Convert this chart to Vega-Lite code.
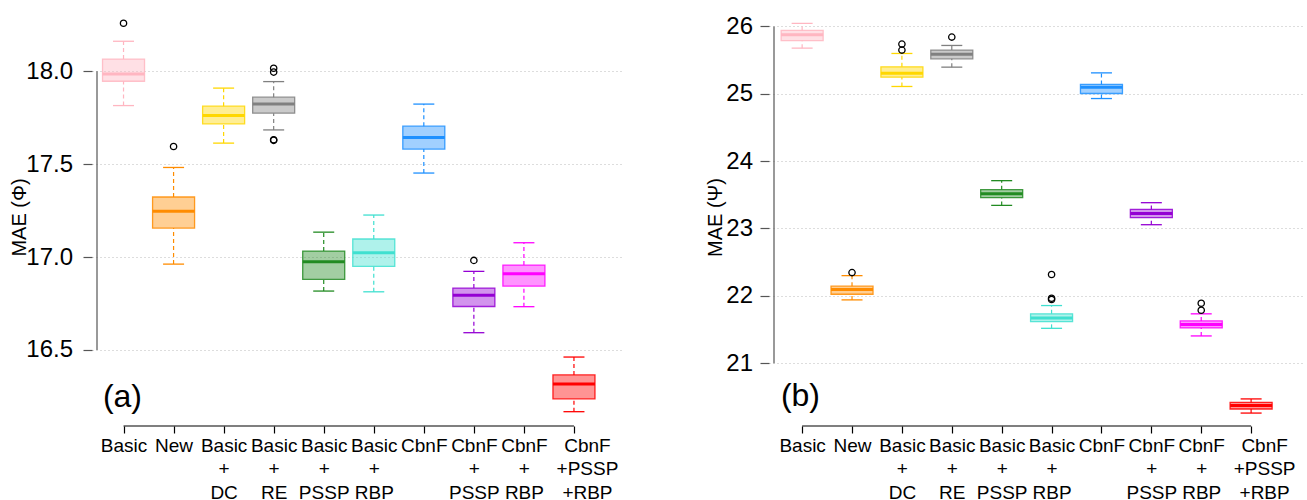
{
  "$schema": "https://vega.github.io/schema/vega-lite/v6.json",
  "padding": {"left": 9, "top": 8, "right": 0, "bottom": 0},
  "spacing": 82,
  "datasets": {
    "one": [{}],
    "a": [
      {"m": 1, "lo": 17.815, "q1": 17.946, "med": 17.985, "q3": 18.065, "hi": 18.161},
      {"m": 2, "lo": 16.962, "q1": 17.156, "med": 17.247, "q3": 17.323, "hi": 17.482},
      {"m": 3, "lo": 17.613, "q1": 17.717, "med": 17.761, "q3": 17.812, "hi": 17.909},
      {"m": 4, "lo": 17.684, "q1": 17.774, "med": 17.824, "q3": 17.860, "hi": 17.944},
      {"m": 5, "lo": 16.817, "q1": 16.880, "med": 16.975, "q3": 17.032, "hi": 17.134},
      {"m": 6, "lo": 16.813, "q1": 16.950, "med": 17.023, "q3": 17.097, "hi": 17.226},
      {"m": 7, "lo": 17.452, "q1": 17.581, "med": 17.643, "q3": 17.704, "hi": 17.823},
      {"m": 8, "lo": 16.593, "q1": 16.734, "med": 16.794, "q3": 16.833, "hi": 16.923},
      {"m": 9, "lo": 16.733, "q1": 16.844, "med": 16.910, "q3": 16.957, "hi": 17.077},
      {"m": 10, "lo": 16.168, "q1": 16.237, "med": 16.317, "q3": 16.366, "hi": 16.462}
    ],
    "ao": [
      {"m": 1, "v": 18.258},
      {"m": 2, "v": 17.595},
      {"m": 4, "v": 18.016},
      {"m": 4, "v": 17.995},
      {"m": 4, "v": 17.631},
      {"m": 4, "v": 17.628},
      {"m": 8, "v": 16.982}
    ],
    "b": [
      {"m": 1, "lo": 25.677, "q1": 25.79, "med": 25.875, "q3": 25.94, "hi": 26.045},
      {"m": 2, "lo": 21.94, "q1": 22.024, "med": 22.094, "q3": 22.143, "hi": 22.30},
      {"m": 3, "lo": 25.108, "q1": 25.246, "med": 25.306, "q3": 25.40, "hi": 25.598},
      {"m": 4, "lo": 25.395, "q1": 25.518, "med": 25.588, "q3": 25.648, "hi": 25.717},
      {"m": 5, "lo": 23.343, "q1": 23.457, "med": 23.517, "q3": 23.576, "hi": 23.71},
      {"m": 6, "lo": 21.518, "q1": 21.618, "med": 21.673, "q3": 21.733, "hi": 21.856},
      {"m": 7, "lo": 24.929, "q1": 25.004, "med": 25.097, "q3": 25.138, "hi": 25.31},
      {"m": 8, "lo": 23.056, "q1": 23.16, "med": 23.224, "q3": 23.283, "hi": 23.383},
      {"m": 9, "lo": 21.405, "q1": 21.524, "med": 21.573, "q3": 21.628, "hi": 21.733},
      {"m": 10, "lo": 20.26, "q1": 20.32, "med": 20.373, "q3": 20.418, "hi": 20.47}
    ],
    "bo": [
      {"m": 2, "v": 22.345},
      {"m": 3, "v": 25.737},
      {"m": 3, "v": 25.648},
      {"m": 4, "v": 25.841},
      {"m": 6, "v": 22.317},
      {"m": 6, "v": 21.964},
      {"m": 6, "v": 21.945},
      {"m": 9, "v": 21.89},
      {"m": 9, "v": 21.786}
    ]
  },
  "hconcat": [
    {
      "width": 531,
      "height": 418,
      "layer": [
        {
          "data": {"name": "one"},
          "mark": {"type": "rule", "color": "#555", "strokeWidth": 1.2},
          "encoding": {
            "x": {"datum": 0.47, "type": "quantitative", "title": null, "scale": {"domain": [0.47, 10.88], "nice": false, "zero": false}},
            "y": {"datum": 16.5, "type": "quantitative", "title": "MAE (Φ)", "scale": {"domain": [16.091, 18.34], "nice": false, "zero": false}},
            "y2": {"datum": 18.0}
          }
        },
        {
          "data": {"name": "one"},
          "mark": {"type": "rule", "color": "#000", "strokeWidth": 1.2},
          "encoding": {
            "x": {"datum": 1, "type": "quantitative", "title": null, "scale": {"domain": [0.47, 10.88], "nice": false, "zero": false}},
            "x2": {"datum": 10},
            "y": {"datum": 16.091, "type": "quantitative", "title": "MAE (Φ)", "scale": {"domain": [16.091, 18.34], "nice": false, "zero": false}}
          }
        },
        {
          "data": {"name": "a"},
          "mark": {"type": "rule", "strokeDash": [4, 3], "strokeWidth": 1.2},
          "encoding": {
            "x": {"field": "m", "type": "quantitative", "title": null, "scale": {"domain": [0.47, 10.88], "nice": false, "zero": false}},
            "y": {"field": "q3", "type": "quantitative", "title": "MAE (Φ)", "scale": {"domain": [16.091, 18.34], "nice": false, "zero": false}},
            "y2": {"field": "hi"},
            "stroke": {"field": "m", "type": "nominal", "legend": null, "scale": {"domain": [1,2,3,4,5,6,7,8,9,10], "range": ["#FFB6C1","#FF8C00","#FFD700","#808080","#228B22","#40E0D0","#1E90FF","#9400D3","#FF00FF","#FF0000"]}}
          }
        },
        {
          "data": {"name": "a"},
          "mark": {"type": "rule", "strokeDash": [4, 3], "strokeWidth": 1.2},
          "encoding": {
            "x": {"field": "m", "type": "quantitative", "title": null, "scale": {"domain": [0.47, 10.88], "nice": false, "zero": false}},
            "y": {"field": "lo", "type": "quantitative", "title": "MAE (Φ)", "scale": {"domain": [16.091, 18.34], "nice": false, "zero": false}},
            "y2": {"field": "q1"},
            "stroke": {"field": "m", "type": "nominal", "legend": null}
          }
        },
        {
          "data": {"name": "a"},
          "mark": {"type": "tick", "orient": "horizontal", "size": 21, "thickness": 1.3, "opacity": 1},
          "encoding": {
            "x": {"field": "m", "type": "quantitative", "title": null, "scale": {"domain": [0.47, 10.88], "nice": false, "zero": false}},
            "y": {"field": "hi", "type": "quantitative", "title": "MAE (Φ)", "scale": {"domain": [16.091, 18.34], "nice": false, "zero": false}},
            "color": {"field": "m", "type": "nominal", "legend": null, "scale": {"domain": [1,2,3,4,5,6,7,8,9,10], "range": ["#FFB6C1","#FF8C00","#FFD700","#808080","#228B22","#40E0D0","#1E90FF","#9400D3","#FF00FF","#FF0000"]}}
          }
        },
        {
          "data": {"name": "a"},
          "mark": {"type": "tick", "orient": "horizontal", "size": 21, "thickness": 1.3, "opacity": 1},
          "encoding": {
            "x": {"field": "m", "type": "quantitative", "title": null, "scale": {"domain": [0.47, 10.88], "nice": false, "zero": false}},
            "y": {"field": "lo", "type": "quantitative", "title": "MAE (Φ)", "scale": {"domain": [16.091, 18.34], "nice": false, "zero": false}},
            "color": {"field": "m", "type": "nominal", "legend": null}
          }
        },
        {
          "data": {"name": "a"},
          "mark": {"type": "bar", "width": 42, "fillOpacity": 0.42, "strokeOpacity": 0.85, "strokeWidth": 1.3},
          "encoding": {
            "x": {"field": "m", "type": "quantitative", "title": null, "scale": {"domain": [0.47, 10.88], "nice": false, "zero": false},
              "axis": {"values": [1,2,3,4,5,6,7,8,9,10], "labelOffset": {"condition": {"test": "datum.value == 10", "value": 13}, "value": 0}}},
            "y": {"field": "q1", "type": "quantitative", "title": "MAE (Φ)", "scale": {"domain": [16.091, 18.34], "nice": false, "zero": false},
              "axis": {"values": [16.5, 17, 17.5, 18], "format": ".1f", "labelPadding": 10.5, "titleX": -72.5}},
            "y2": {"field": "q3"},
            "fill": {"field": "m", "type": "nominal", "legend": null, "scale": {"domain": [1,2,3,4,5,6,7,8,9,10], "range": ["#FFB6C1","#FF8C00","#FFD700","#808080","#228B22","#40E0D0","#1E90FF","#9400D3","#FF00FF","#FF0000"]}},
            "stroke": {"field": "m", "type": "nominal", "legend": null}
          }
        },
        {
          "data": {"name": "a"},
          "mark": {"type": "tick", "orient": "horizontal", "size": 42, "thickness": 3, "opacity": 1},
          "encoding": {
            "x": {"field": "m", "type": "quantitative", "title": null, "scale": {"domain": [0.47, 10.88], "nice": false, "zero": false}},
            "y": {"field": "med", "type": "quantitative", "title": "MAE (Φ)", "scale": {"domain": [16.091, 18.34], "nice": false, "zero": false}},
            "color": {"field": "m", "type": "nominal", "legend": null}
          }
        },
        {
          "data": {"name": "ao"},
          "mark": {"type": "point", "shape": "circle", "filled": false, "size": 40, "strokeWidth": 1.3, "color": "#000", "opacity": 1},
          "encoding": {
            "x": {"field": "m", "type": "quantitative", "title": null, "scale": {"domain": [0.47, 10.88], "nice": false, "zero": false}},
            "y": {"field": "v", "type": "quantitative", "title": "MAE (Φ)", "scale": {"domain": [16.091, 18.34], "nice": false, "zero": false}}
          }
        },
        {
          "data": {"name": "one"},
          "mark": {"type": "text", "align": "left", "baseline": "middle", "fontSize": 32, "color": "#000"},
          "encoding": {
            "x": {"datum": 0.588, "type": "quantitative", "title": null, "scale": {"domain": [0.47, 10.88], "nice": false, "zero": false}},
            "y": {"datum": 16.249, "type": "quantitative", "title": "MAE (Φ)", "scale": {"domain": [16.091, 18.34], "nice": false, "zero": false}},
            "text": {"value": "(a)"}
          }
        }
      ]
    },
    {
      "width": 536,
      "height": 418,
      "layer": [
        {
          "data": {"name": "one"},
          "mark": {"type": "rule", "color": "#555", "strokeWidth": 1.2},
          "encoding": {
            "x": {"datum": 0.436, "type": "quantitative", "title": null, "scale": {"domain": [0.436, 10.98], "nice": false, "zero": false}},
            "y": {"datum": 21, "type": "quantitative", "title": "MAE (Ψ)", "scale": {"domain": [20.068, 26.273], "nice": false, "zero": false}},
            "y2": {"datum": 26}
          }
        },
        {
          "data": {"name": "one"},
          "mark": {"type": "rule", "color": "#000", "strokeWidth": 1.2},
          "encoding": {
            "x": {"datum": 1, "type": "quantitative", "title": null, "scale": {"domain": [0.436, 10.98], "nice": false, "zero": false}},
            "x2": {"datum": 10},
            "y": {"datum": 20.068, "type": "quantitative", "title": "MAE (Ψ)", "scale": {"domain": [20.068, 26.273], "nice": false, "zero": false}}
          }
        },
        {
          "data": {"name": "b"},
          "mark": {"type": "rule", "strokeDash": [4, 3], "strokeWidth": 1.2},
          "encoding": {
            "x": {"field": "m", "type": "quantitative", "title": null, "scale": {"domain": [0.436, 10.98], "nice": false, "zero": false}},
            "y": {"field": "q3", "type": "quantitative", "title": "MAE (Ψ)", "scale": {"domain": [20.068, 26.273], "nice": false, "zero": false}},
            "y2": {"field": "hi"},
            "stroke": {"field": "m", "type": "nominal", "legend": null, "scale": {"domain": [1,2,3,4,5,6,7,8,9,10], "range": ["#FFB6C1","#FF8C00","#FFD700","#808080","#228B22","#40E0D0","#1E90FF","#9400D3","#FF00FF","#FF0000"]}}
          }
        },
        {
          "data": {"name": "b"},
          "mark": {"type": "rule", "strokeDash": [4, 3], "strokeWidth": 1.2},
          "encoding": {
            "x": {"field": "m", "type": "quantitative", "title": null, "scale": {"domain": [0.436, 10.98], "nice": false, "zero": false}},
            "y": {"field": "lo", "type": "quantitative", "title": "MAE (Ψ)", "scale": {"domain": [20.068, 26.273], "nice": false, "zero": false}},
            "y2": {"field": "q1"},
            "stroke": {"field": "m", "type": "nominal", "legend": null}
          }
        },
        {
          "data": {"name": "b"},
          "mark": {"type": "tick", "orient": "horizontal", "size": 21, "thickness": 1.3, "opacity": 1},
          "encoding": {
            "x": {"field": "m", "type": "quantitative", "title": null, "scale": {"domain": [0.436, 10.98], "nice": false, "zero": false}},
            "y": {"field": "hi", "type": "quantitative", "title": "MAE (Ψ)", "scale": {"domain": [20.068, 26.273], "nice": false, "zero": false}},
            "color": {"field": "m", "type": "nominal", "legend": null, "scale": {"domain": [1,2,3,4,5,6,7,8,9,10], "range": ["#FFB6C1","#FF8C00","#FFD700","#808080","#228B22","#40E0D0","#1E90FF","#9400D3","#FF00FF","#FF0000"]}}
          }
        },
        {
          "data": {"name": "b"},
          "mark": {"type": "tick", "orient": "horizontal", "size": 21, "thickness": 1.3, "opacity": 1},
          "encoding": {
            "x": {"field": "m", "type": "quantitative", "title": null, "scale": {"domain": [0.436, 10.98], "nice": false, "zero": false}},
            "y": {"field": "lo", "type": "quantitative", "title": "MAE (Ψ)", "scale": {"domain": [20.068, 26.273], "nice": false, "zero": false}},
            "color": {"field": "m", "type": "nominal", "legend": null}
          }
        },
        {
          "data": {"name": "b"},
          "mark": {"type": "bar", "width": 42, "fillOpacity": 0.42, "strokeOpacity": 0.85, "strokeWidth": 1.3},
          "encoding": {
            "x": {"field": "m", "type": "quantitative", "title": null, "scale": {"domain": [0.436, 10.98], "nice": false, "zero": false},
              "axis": {"values": [1,2,3,4,5,6,7,8,9,10], "labelOffset": {"condition": {"test": "datum.value == 10", "value": 13}, "value": 0}}},
            "y": {"field": "q1", "type": "quantitative", "title": "MAE (Ψ)", "scale": {"domain": [20.068, 26.273], "nice": false, "zero": false},
              "axis": {"values": [21, 22, 23, 24, 25, 26], "format": "d", "labelPadding": 7.5, "titleX": -54}},
            "y2": {"field": "q3"},
            "fill": {"field": "m", "type": "nominal", "legend": null, "scale": {"domain": [1,2,3,4,5,6,7,8,9,10], "range": ["#FFB6C1","#FF8C00","#FFD700","#808080","#228B22","#40E0D0","#1E90FF","#9400D3","#FF00FF","#FF0000"]}},
            "stroke": {"field": "m", "type": "nominal", "legend": null}
          }
        },
        {
          "data": {"name": "b"},
          "mark": {"type": "tick", "orient": "horizontal", "size": 42, "thickness": 3, "opacity": 1},
          "encoding": {
            "x": {"field": "m", "type": "quantitative", "title": null, "scale": {"domain": [0.436, 10.98], "nice": false, "zero": false}},
            "y": {"field": "med", "type": "quantitative", "title": "MAE (Ψ)", "scale": {"domain": [20.068, 26.273], "nice": false, "zero": false}},
            "color": {"field": "m", "type": "nominal", "legend": null}
          }
        },
        {
          "data": {"name": "bo"},
          "mark": {"type": "point", "shape": "circle", "filled": false, "size": 40, "strokeWidth": 1.3, "color": "#000", "opacity": 1},
          "encoding": {
            "x": {"field": "m", "type": "quantitative", "title": null, "scale": {"domain": [0.436, 10.98], "nice": false, "zero": false}},
            "y": {"field": "v", "type": "quantitative", "title": "MAE (Ψ)", "scale": {"domain": [20.068, 26.273], "nice": false, "zero": false}}
          }
        },
        {
          "data": {"name": "one"},
          "mark": {"type": "text", "align": "left", "baseline": "middle", "fontSize": 32, "color": "#000"},
          "encoding": {
            "x": {"datum": 0.574, "type": "quantitative", "title": null, "scale": {"domain": [0.436, 10.98], "nice": false, "zero": false}},
            "y": {"datum": 20.514, "type": "quantitative", "title": "MAE (Ψ)", "scale": {"domain": [20.068, 26.273], "nice": false, "zero": false}},
            "text": {"value": "(b)"}
          }
        }
      ]
    }
  ],
  "config": {
    "font": "Liberation Sans",
    "view": {"stroke": null},
    "axisX": {
      "labelExpr": "[['Basic'],['New'],['Basic','+','DC'],['Basic','+','RE'],['Basic','+','PSSP'],['Basic','+','RBP'],['CbnF'],['CbnF','+','PSSP'],['CbnF','+','RBP'],['CbnF','+PSSP','+RBP']][datum.value-1]",
      "domain": false,
      "grid": false,
      "tickSize": 7,
      "tickColor": "#000",
      "tickWidth": 1.2,
      "labelPadding": 3,
      "labelFontSize": 19,
      "labelLineHeight": 23.5,
      "labelOverlap": false,
      "labelBound": false,
      "labelFlush": false,
      "labelColor": "#000",
      "labelAngle": 0
    },
    "axisY": {
      "domain": false,
      "grid": true,
      "gridDash": [1, 3],
      "gridColor": "#bbbbbb",
      "gridWidth": 1,
      "tickSize": 9,
      "tickColor": "#555",
      "tickWidth": 1.2,
      "labelFontSize": 24,
      "labelColor": "#000",
      "titleFontSize": 20,
      "titleFontWeight": "normal",
      "titleColor": "#000",
      "titleAngle": -90,
      "titleAlign": "center",
      "titleBaseline": "middle",
      "titleY": 209
    }
  }
}
